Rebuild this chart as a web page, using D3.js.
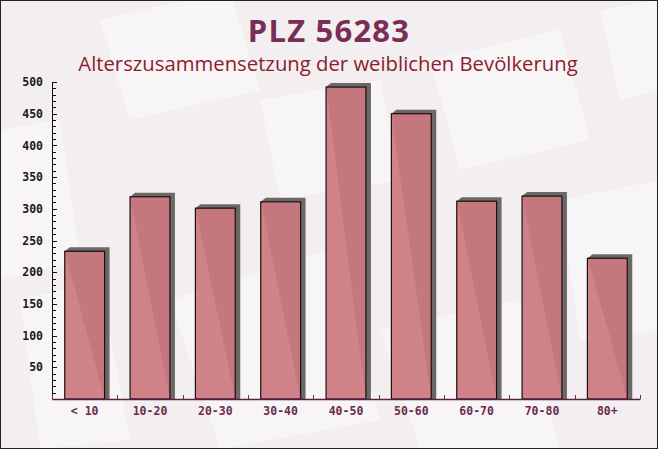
<!DOCTYPE html>
<html>
<head>
<meta charset="utf-8">
<script src="https://cdn.jsdelivr.net/npm/d3@7/dist/d3.min.js"></script>
<style>
html,body{margin:0;padding:0;background:#fff;}
svg{display:block;}
</style>
</head>
<body>
<svg id="chart" width="658" height="449"></svg>
<script>
const categories = ["< 10","10-20","20-30","30-40","40-50","50-60","60-70","70-80","80+"];
const values = [233, 319, 301, 311, 492, 450, 312, 320, 222];
const yTicks = [50,100,150,200,250,300,350,400,450,500];
const titleText = "PLZ 56283";
const subtitleText = "Alterszusammensetzung der weiblichen Bevölkerung";

const W = 658, H = 449;
const svg = d3.select("#chart");

// background
svg.append("rect").attr("x",0).attr("y",0).attr("width",W).attr("height",H).attr("fill","#f3eff0");
const deco = [
  [[100,20],[230,-10],[260,90],[130,120]],
  [[430,60],[560,30],[590,140],[460,170]],
  [[0,130],[60,120],[80,260],[0,280]],
  [[560,200],[660,180],[660,330],[580,340]],
  [[170,300],[330,250],[380,420],[220,449]],
  [[380,330],[520,300],[560,449],[420,449]],
  [[20,300],[100,280],[130,440],[40,449]],
  [[260,100],[380,80],[400,180],[280,200]],
  [[600,10],[658,0],[658,90],[620,100]]
];
svg.append("g").selectAll("polygon").data(deco).join("polygon")
  .attr("points", d => d.map(p => p.join(",")).join(" "))
  .attr("fill","#ffffff").attr("opacity",0.4);

const x = d3.scaleBand().domain(categories).range([52, 640]).paddingInner(0.39).paddingOuter(0.195);
const y = d3.scaleLinear().domain([0,500]).range([399, 82]);

// title
svg.append("text").attr("x",329).attr("y",42).attr("text-anchor","middle")
  .attr("font-family","'Open Sans', 'DejaVu Sans', sans-serif").attr("font-weight","bold")
  .attr("font-size",31).attr("letter-spacing",1.2).attr("fill","#7a2d55").text(titleText);
svg.append("text").attr("x",328).attr("y",71).attr("text-anchor","middle")
  .attr("font-family","'Open Sans', 'DejaVu Sans', sans-serif")
  .attr("font-size",20.3).attr("fill","#8e1b2e").text(subtitleText);

// bars with 3D side/top
const dx = 5, dy = 4;
const g = svg.append("g");
g.selectAll("polygon.shadow").data(values).join("polygon").attr("class","shadow")
  .attr("points",(d,i)=>{
    const x0 = x(categories[i]), w = x.bandwidth(), yt = y(d), yb = y(0);
    return [[x0,yt],[x0+dx,yt-dy],[x0+w+dx,yt-dy],[x0+w+dx,yb],[x0+w,yb]].map(p=>p.join(",")).join(" ");
  })
  .attr("fill","#6c6868");
g.selectAll("rect.bar").data(values).join("rect").attr("class","bar")
  .attr("x",(d,i)=>x(categories[i]))
  .attr("y",d=>y(d))
  .attr("width",x.bandwidth())
  .attr("height",d=>y(0)-y(d))
  .attr("fill","#cc7a80").attr("fill-opacity",0.92)
  .attr("stroke","#1a1010").attr("stroke-width",1.2);

// y axis
const yAxis = d3.axisLeft(y).tickValues(yTicks).tickSize(0).tickPadding(9);
const ya = svg.append("g").attr("transform","translate(52,0)").call(yAxis);
ya.select(".domain").attr("stroke","#111");
ya.selectAll("text").attr("font-family","'DejaVu Sans Mono', monospace").attr("font-weight","bold")
  .attr("font-size",11.5).attr("fill","#1a1a1a");
const minor = d3.range(10, 501, 10);
svg.append("g").selectAll("line").data(minor).join("line")
  .attr("x1",52).attr("x2",d=> d%50===0 ? 57 : 56)
  .attr("y1",d=>Math.round(y(d))+0.5).attr("y2",d=>Math.round(y(d))+0.5)
  .attr("stroke","#111").attr("stroke-width",1);

// x axis
const xAxis = d3.axisBottom(x).tickSize(0).tickPadding(8);
const xa = svg.append("g").attr("transform","translate(0,399)").call(xAxis);
xa.select(".domain").attr("stroke","#5a1f40").attr("stroke-width",1.3);
xa.selectAll("text").attr("font-family","'DejaVu Sans Mono', monospace").attr("font-weight","bold")
  .attr("font-size",11.5).attr("fill","#6b2a50");
const step = x.step();
const xt = d3.range(0, categories.length+1).map(i => 52 + i*step);
svg.append("g").selectAll("line").data(xt).join("line")
  .attr("x1",d=>Math.round(d)+0.5).attr("x2",d=>Math.round(d)+0.5)
  .attr("y1",399).attr("y2",395).attr("stroke","#444");

// border
svg.append("rect").attr("x",0.5).attr("y",0.5).attr("width",W-1).attr("height",H-1)
  .attr("fill","none").attr("stroke","#222");
</script>
</body>
</html>
